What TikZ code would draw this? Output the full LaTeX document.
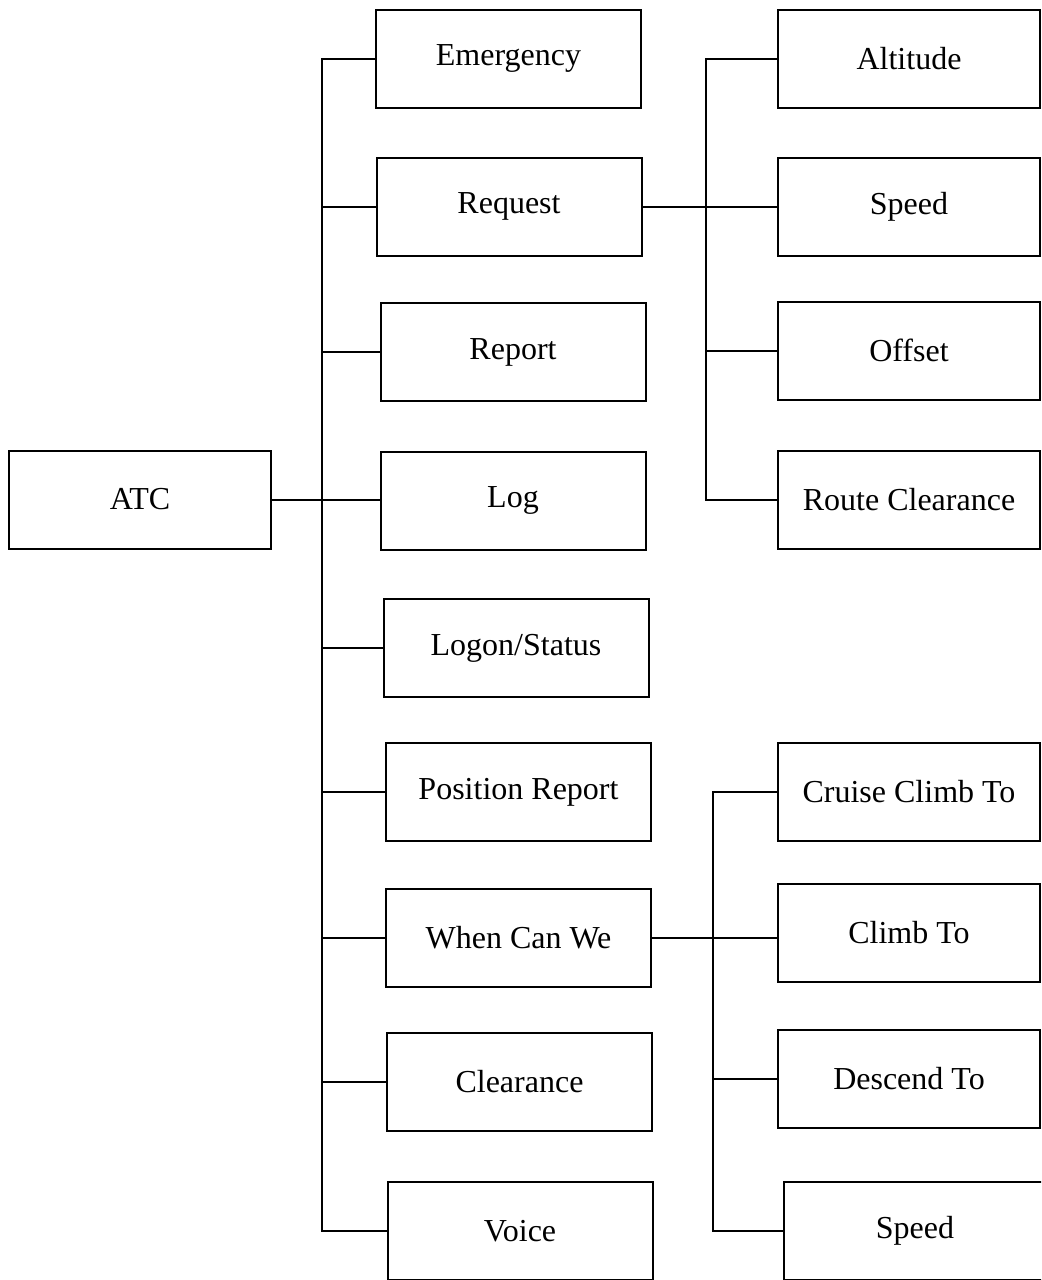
\documentclass[tikz,border=0pt]{standalone}
\usepackage{fontspec}
\setmainfont{Liberation Serif}
\begin{document}
\begin{tikzpicture}[x=0.5pt,y=-0.5pt,line width=1pt,
  blk/.style={draw,rectangle,inner sep=0pt,minimum width=132.5pt,minimum height=49pt,
    font=\fontsize{16}{19}\selectfont}]
\useasboundingbox (0,0) rectangle (1041,1280);
\clip (0,0) rectangle (1041,1280);

\node[blk,minimum width=131pt] (ATC) at (140,499.5) {ATC};

\node[blk] (E) at (508.5,58.5) {Emergency};
\node[blk] (Rq) at (509,206.5) {Request};
\node[blk] (Rp) at (513,352) {Report};
\node[blk] (L) at (513,500.5) {Log};
\node[blk] (LS) at (516,648) {Logon/Status};
\node[blk] (PR) at (518.5,792) {Position Report};
\node[blk] (W) at (518.5,937.5) {When Can We};
\node[blk] (C) at (519.5,1081.5) {Clearance};
\node[blk] (V) at (520,1231) {Voice};

\node[blk,minimum width=131pt] (A) at (909,58.5) {Altitude};
\node[blk,minimum width=131pt] (S) at (909,206.5) {Speed};
\node[blk,minimum width=131pt] (O) at (909,350.5) {Offset};
\node[blk,minimum width=131pt] (RC) at (909,500) {Route Clearance};
\node[blk,minimum width=131pt] (CC) at (909,792) {Cruise Climb To};
\node[blk,minimum width=131pt] (CT) at (909,932.5) {Climb To};
\node[blk,minimum width=131pt] (DT) at (909,1079) {Descend To};
\node[blk,minimum width=131pt] (S') at (915,1230.5) {Speed};

\coordinate (M) at (322,0);
\coordinate (N) at (706,0);
\coordinate (N') at (713,0);

% ATC branches
\draw (E.west) -- (E.west -| M) |- (V.west);
\draw (ATC.east) -- (ATC.east -| L.west);
\draw (Rq.west) -- (Rq.west -| M);
\draw (Rp.west) -- (Rp.west -| M);
\draw (LS.west) -- (LS.west -| M);
\draw (PR.west) -- (PR.west -| M);
\draw (W.west) -- (W.west -| M);
\draw (C.west) -- (C.west -| M);

% Request branches
\draw (A.west) -- (A.west -| N) |- (RC.west);
\draw (Rq.east) -- (S.west);
\draw (O.west) -- (O.west -| N);

% When Can We branches
\draw (CC.west) -- (CC.west -| N') |- (S'.west);
\draw (W.east) -- (W.east -| CT.west);
\draw (DT.west) -- (DT.west -| N');
\end{tikzpicture}
\end{document}
